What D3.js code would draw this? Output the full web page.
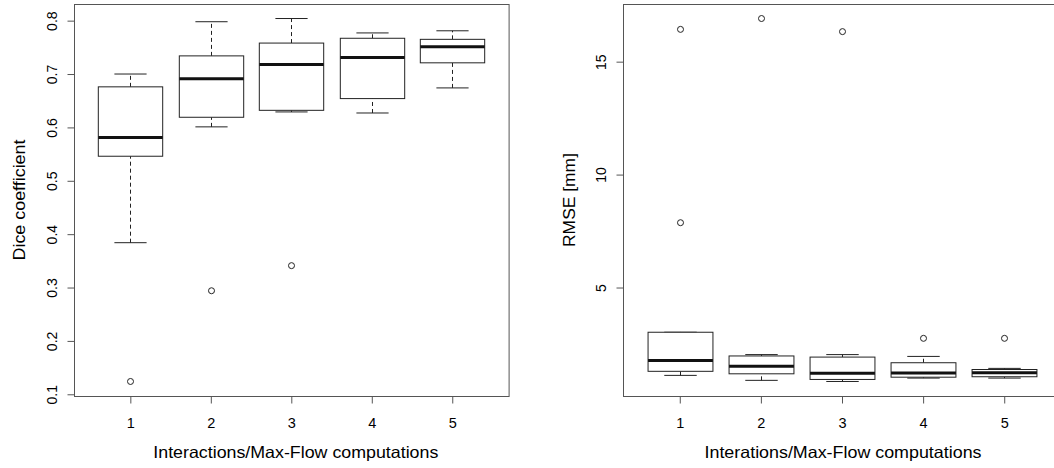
<!DOCTYPE html>
<html><head><meta charset="utf-8">
<script src="https://cdn.jsdelivr.net/npm/d3@7"></script>
<style>body{margin:0;background:#fff}svg{display:block}text{font-family:"Liberation Sans",Arial,sans-serif;fill:#000}</style>
</head><body>
<svg id="c" width="1054" height="468"></svg>
<script>
const groups = [1, 2, 3, 4, 5];
// [lower whisker, Q1, median, Q3, upper whisker]
const diceStats = [
  [0.384, 0.546, 0.581, 0.676, 0.700],
  [0.601, 0.619, 0.691, 0.734, 0.798],
  [0.629, 0.632, 0.718, 0.758, 0.804],
  [0.627, 0.654, 0.731, 0.767, 0.777],
  [0.674, 0.721, 0.751, 0.765, 0.781]
];
const diceOutliers = [[0.124], [0.294], [0.341], [], []];
const diceTicks = [0.1, 0.2, 0.3, 0.4, 0.5, 0.6, 0.7, 0.8];

const rmseStats = [
  [1.11, 1.29, 1.77, 3.02, 3.02],
  [0.89, 1.18, 1.51, 1.97, 2.03],
  [0.84, 0.93, 1.20, 1.92, 2.03],
  [0.99, 1.03, 1.21, 1.67, 1.95],
  [0.99, 1.05, 1.23, 1.37, 1.42]
];
const rmseOutliers = [[16.43, 7.87], [16.91], [16.33], [2.75], [2.75]];
const rmseTicks = [5, 10, 15];

const svg = d3.select("#c");
const LINE = "#222";

function panel(opt) {
  const g = svg.append("g");
  const all = opt.stats.flat().concat(opt.outliers.flat());
  const lo = d3.min(all), hi = d3.max(all), pad = (hi - lo) * 0.04;
  const x = d3.scaleLinear().domain([0.3, 5.7]).range([opt.x0, opt.x1]);
  const y = d3.scaleLinear().domain([lo - pad, hi + pad]).range([opt.y1, opt.y0]);
  const bw = x(1.8) - x(1);
  const cw = bw / 2;

  // frame
  g.append("rect").attr("x", opt.x0 + 0.5).attr("y", opt.y0 + 0.5)
    .attr("width", opt.x1 - opt.x0).attr("height", opt.y1 - opt.y0)
    .attr("fill", "none").attr("stroke", "#555").attr("stroke-width", 1);

  groups.forEach((gr, i) => {
    const s = opt.stats[i];
    const cx = Math.round(x(gr)) + 0.5;
    // whiskers
    g.append("line").attr("x1", cx).attr("x2", cx).attr("y1", y(s[3])).attr("y2", y(s[4]))
      .attr("stroke", LINE).attr("stroke-dasharray", "4,3");
    g.append("line").attr("x1", cx).attr("x2", cx).attr("y1", y(s[0])).attr("y2", y(s[1]))
      .attr("stroke", LINE).attr("stroke-dasharray", "4,3");
    // caps
    [s[0], s[4]].forEach(v => {
      g.append("line").attr("x1", cx - cw / 2).attr("x2", cx + cw / 2).attr("y1", y(v)).attr("y2", y(v))
        .attr("stroke", LINE);
    });
    // box
    g.append("rect").attr("x", cx - bw / 2).attr("y", y(s[3]))
      .attr("width", bw).attr("height", y(s[1]) - y(s[3]))
      .attr("fill", "#fff").attr("stroke", LINE);
    // median
    g.append("line").attr("x1", cx - bw / 2).attr("x2", cx + bw / 2).attr("y1", y(s[2])).attr("y2", y(s[2]))
      .attr("stroke", "#111").attr("stroke-width", 3);
    // outliers
    opt.outliers[i].forEach(v => {
      g.append("circle").attr("cx", cx).attr("cy", y(v)).attr("r", 3)
        .attr("fill", "none").attr("stroke", LINE);
    });
  });

  // x axis
  const xa = g.append("g").attr("transform", `translate(0,${opt.y1 + 0.5})`)
    .call(d3.axisBottom(x).tickValues(groups).tickSize(7).tickSizeOuter(0).tickFormat(d3.format("d")));
  xa.select(".domain").remove();
  xa.selectAll(".tick line").attr("stroke", "#555");
  xa.selectAll(".tick text").attr("dy", null).attr("y", 31.5).style("font-size", "14.5px").attr("fill", "#000");

  // y axis
  const ya = g.append("g").attr("transform", `translate(${opt.x0 + 0.5},0)`)
    .call(d3.axisLeft(y).tickValues(opt.ticks).tickSize(7).tickSizeOuter(0).tickFormat(opt.fmt));
  ya.select(".domain").attr("d", `M0,${y(opt.ticks[0])}V${y(opt.ticks[opt.ticks.length - 1])}`).attr("stroke", "#555");
  ya.selectAll(".tick line").attr("stroke", "#555");
  ya.selectAll(".tick text").attr("x", null).attr("dy", null)
    .attr("text-anchor", "middle")
    .attr("transform", "translate(-18,0) rotate(-90)")
    .style("font-size", "14px").attr("fill", "#000");

  // titles
  g.append("text").attr("x", (opt.x0 + opt.x1) / 2 + (opt.xtShift || 0)).attr("y", 458)
    .attr("text-anchor", "middle").style("font-size", "16.5px")
    .attr("textLength", opt.xtLen).attr("lengthAdjust", "spacingAndGlyphs").text(opt.xtitle);
  g.append("text").attr("transform", `translate(${opt.ytx},${(opt.y0 + opt.y1) / 2}) rotate(-90)`)
    .attr("text-anchor", "middle").style("font-size", "16.5px")
    .attr("textLength", opt.ytLen).attr("lengthAdjust", "spacingAndGlyphs").text(opt.ytitle);
}

panel({
  stats: diceStats, outliers: diceOutliers, ticks: diceTicks, fmt: d3.format(".1f"),
  x0: 74, x1: 508.6, y0: 4, y1: 396,
  xtitle: "Interactions/Max-Flow computations", ytitle: "Dice coefficient",
  ytx: 25, xtShift: 4.5, xtLen: 285, ytLen: 121
});
panel({
  stats: rmseStats, outliers: rmseOutliers, ticks: rmseTicks, fmt: d3.format("d"),
  x0: 623, x1: 1061, y0: 4, y1: 396,
  xtitle: "Interations/Max-Flow computations", ytitle: "RMSE [mm]",
  ytx: 575, xtShift: 1, xtLen: 277, ytLen: 94
});
</script>
</body></html>
